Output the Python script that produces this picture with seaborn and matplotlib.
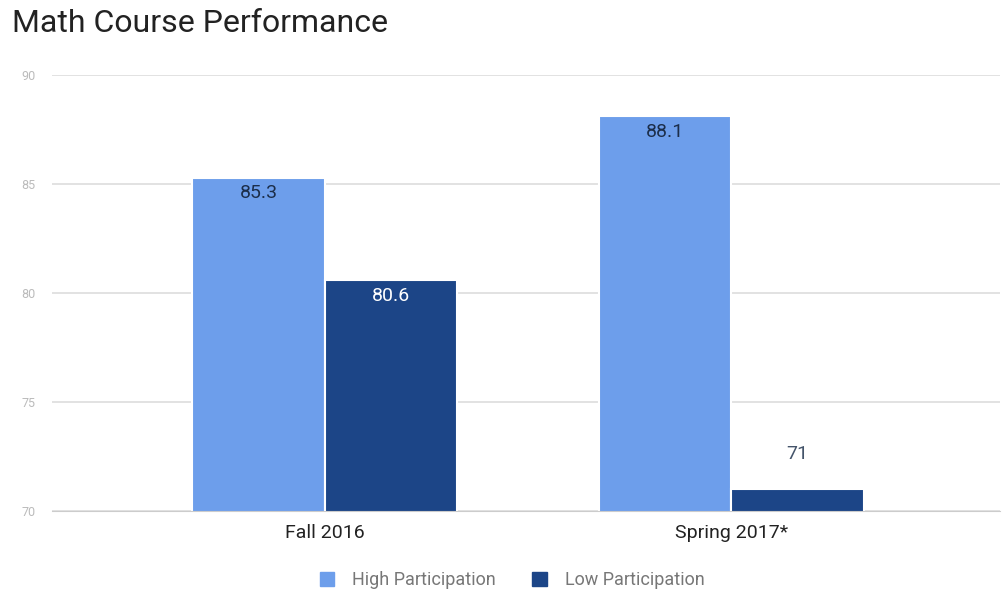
import matplotlib
matplotlib.use("Agg")
import matplotlib.pyplot as plt
import seaborn as sns
import pandas as pd

# data
terms = ["Fall 2016", "Spring 2017*"]
groups = ["High Participation", "Low Participation"]
high_scores = [85.3, 88.1]
low_scores = [80.6, 71]
colors = ["#6d9eeb", "#1c4587"]

df = pd.DataFrame({
    "term": terms * 2,
    "group": [groups[0]] * len(terms) + [groups[1]] * len(terms),
    "score": high_scores + low_scores,
})

sns.set_style("white")
plt.rcParams["font.family"] = ["Roboto", "DejaVu Sans"]

fig = plt.figure(figsize=(10.02, 6), dpi=100)
ax = fig.add_axes([0.052, 0.148, 0.946, 0.727])

sns.barplot(data=df, x="term", y="score", hue="group", palette=colors,
            saturation=1, width=0.65, edgecolor="white", linewidth=1.5,
            ax=ax, legend=False)

ax.set_ylim(70, 90)
ax.set_xlim(-0.67, 1.66)
ax.set_yticks([70, 75, 80, 85, 90])
ax.yaxis.grid(True, color="#dddddd", linewidth=1.2)
ax.set_axisbelow(True)
for s in ax.spines.values():
    s.set_visible(False)
ax.spines["bottom"].set_visible(True)
ax.spines["bottom"].set_color("#cccccc")
ax.set_xlabel("")
ax.set_ylabel("")
ax.tick_params(axis="y", length=0, labelsize=9, labelcolor="#bbbbbb", pad=12)
ax.tick_params(axis="x", length=0, labelsize=14, labelcolor="#222222", pad=9)

# value labels
for cont, vals, grp in zip(ax.containers, [high_scores, low_scores], groups):
    for bar, v in zip(cont, vals):
        xc = bar.get_x() + bar.get_width() / 2
        lbl = f"{v:g}"
        if v - 70 > 3:
            col = "#1c2e4a" if grp == groups[0] else "white"
            ax.text(xc, v - 0.3, lbl, ha="center", va="top", fontsize=14, color=col)
        else:
            ax.text(xc, v + 1.2, lbl, ha="center", va="bottom", fontsize=14, color="#44546a")

handles = [plt.Rectangle((0, 0), 1, 1, color=c) for c in colors]
fig.legend(handles, groups, loc="center", bbox_to_anchor=(0.511, 0.033), ncol=2,
           frameon=False, fontsize=13, handlelength=0.8, handleheight=0.8,
           handletextpad=1.0, columnspacing=2.0, labelcolor="#777777")

fig.text(0.012, 0.985, "Math Course Performance", fontsize=23, color="#222222",
         ha="left", va="top")

fig.savefig("out.png", dpi=100)
